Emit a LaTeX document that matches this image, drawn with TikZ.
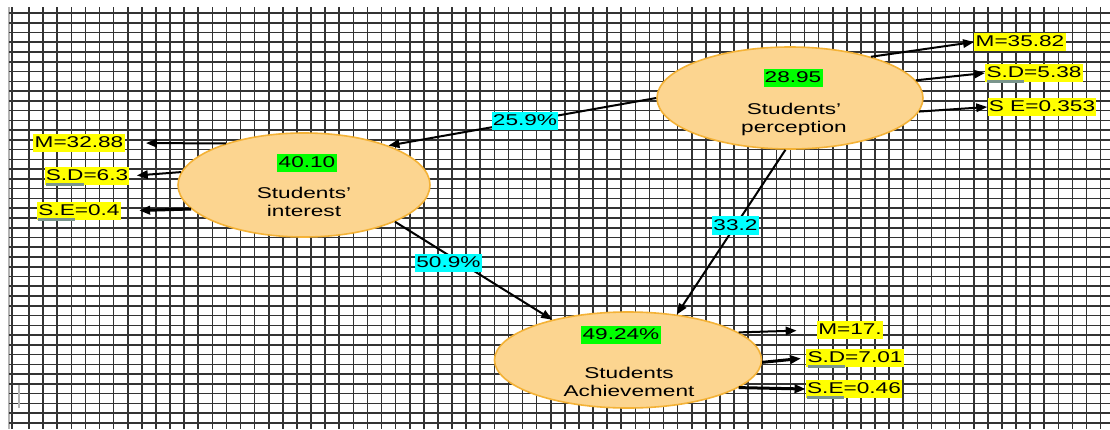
\documentclass[tikz,border=0pt]{standalone}
\usepackage{fontspec}
\setmainfont{Liberation Sans}[FakeStretch=1.45]
\usepackage{tikz}
\usetikzlibrary{arrows.meta,shapes.geometric}
\definecolor{peach}{HTML}{FCD590}
\definecolor{peachline}{HTML}{F4B236}
\definecolor{hlyellow}{HTML}{FFFF00}
\definecolor{hlgreen}{HTML}{00FF00}
\definecolor{hlcyan}{HTML}{00FFFF}
\definecolor{ulgray}{HTML}{7A958C}
\newcommand\ulab[1]{\setbox0\hbox{#1}\rlap{\textcolor{ulgray}{\rule[-2.6pt]{\wd0}{1.3pt}}}\box0}

\begin{document}
\begin{tikzpicture}[x=0.5pt, y=-0.5pt,
    font=\fontsize{7.8}{9}\selectfont,
    gridln/.style={line width=0.8pt, black!80},
    construct/.style={ellipse, draw=peachline, line width=0.8pt, fill=peach},
    hl/.style={fill=#1, inner xsep=0.6pt, inner ysep=0.9pt,
               text height=5.9pt, text depth=1.4pt},
    stat/.style={hl=hlyellow},
    mean/.style={hl=hlgreen},
    coef/.style={hl=hlcyan},
    cname/.style={align=center, inner sep=0pt},
    arr/.style={-{Triangle[length=5.5pt,width=4.2pt]}, line width=1pt}
  ]
    \path[use as bounding box, fill=white] (0,0) rectangle (1110,429);

    % Grid paper
    \begin{scope}
      \clip (0,0) rectangle (1110,429);
      \draw[gray!60, line width=0.8pt] (9,7) -- (9,429);
      \draw[gridln] (12,7) -- (12,429);
      \foreach \gx in {0,...,76}
        \draw[gridln] ({29+\gx*14.1},7) -- ({29+\gx*14.1},429);
      \foreach \gy in {0,...,42}
        \draw[gridln] (9,{13+\gy*9.76}) -- (1110,{13+\gy*9.76});
      \draw[gray!60, line width=0.8pt] (19,385) -- (19,408);
    \end{scope}

    % Constructs
    \node[construct, minimum width=133pt, minimum height=51pt]   (perc) at (790,98)  {};
    \node[construct, minimum width=126pt, minimum height=52pt]   (intr) at (304,185) {};
    \node[construct, minimum width=133.5pt, minimum height=48pt] (achv) at (628,360) {};

    \node[mean] (percval) at (793,78)  {28.95};
    \node[mean] (intrval) at (307,163) {40.10};
    \node[mean] (achvval) at (621,335) {49.24\%};

    \node[cname] (percname) at (794,119) {Students’\\perception};
    \node[cname] (intrname) at (304,202) {Students’\\interest};
    \node[cname] (achvname) at (629,382) {Students\\Achievement};

    % Descriptives
    \node[stat] (pm)  at (1020,42)  {M=35.82};
    \node[stat] (psd) at (1034,73)  {\ulab{S.D}=5.38};
    \node[stat] (pse) at (1042,107) {S E=0.353};
    \node[stat] (im)  at (79,143)   {M=32.88};
    \node[stat] (isd) at (87,176)   {\ulab{S.D}=6.3};
    \node[stat] (ise) at (79,211)   {\ulab{S.E}=0.4};
    \node[stat] (am)  at (850,330)  {M=17.};
    \node[stat] (asd) at (855,358)  {\ulab{S.D}=7.01};
    \node[stat] (ase) at (854,389)  {\ulab{S.E}=0.46};

    \foreach \a/\b/\s/\w in {perc.27/pm.west/0/1, perc.8/psd.west/0/1,
        perc.-6/pse.west/0/1, intr.152/im.east/10.5/1, intr.174/isd.east/3.5/1,
        intr.192/ise.east/9/1.5, achv.14/am.west/10/1, achv.-1/asd.west/2.5/1.5,
        achv.-14/ase.west/0/1.5}
      \draw[arr, line width=\w pt, shorten >=\s pt] (\a) -- (\b);

    % Paths
    \draw[arr] (perc.180) -- (intr.25)  node[coef, pos=0.49] (p1) {25.9\%};
    \draw[arr] (intr.-22) -- (achv.152) node[coef, pos=0.34, yshift=-4pt] (p2) {50.9\%};
    \draw[arr] (perc.-95) -- (achv.43)  node[coef, pos=0.46] (p3) {33.2};
  \end{tikzpicture}
\end{document}
